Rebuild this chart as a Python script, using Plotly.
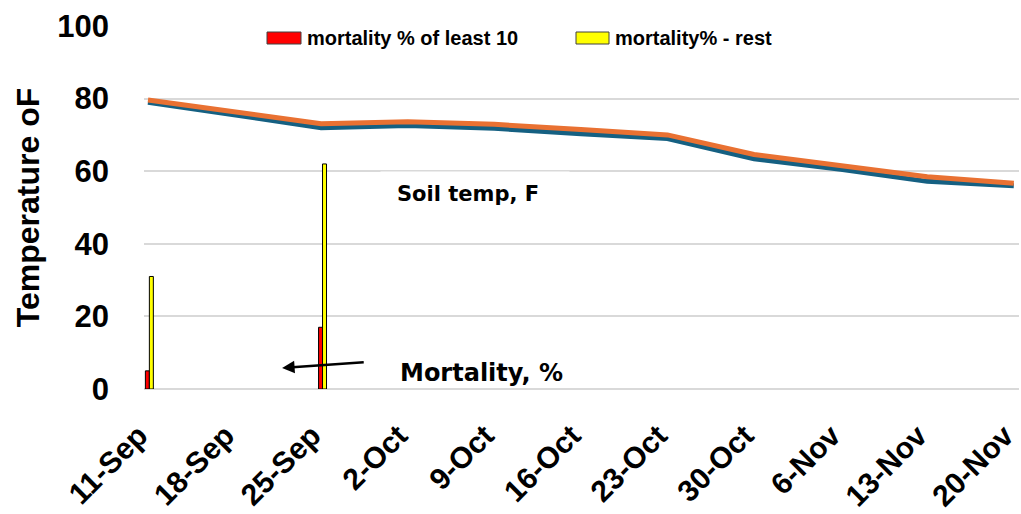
import plotly.graph_objects as go

# ---- data ----
dates = ["11-Sep", "18-Sep", "25-Sep", "2-Oct", "9-Oct", "16-Oct",
         "23-Oct", "30-Oct", "6-Nov", "13-Nov", "20-Nov"]
soil_temp_lower = [79.0, 75.5, 72.0, 72.6, 71.8, 70.3, 69.0, 63.4, 60.5, 57.2, 56.0]
soil_temp_upper = [79.6, 76.4, 73.1, 73.6, 72.9, 71.5, 70.0, 64.6, 61.7, 58.5, 56.7]

mort_dates = ["11-Sep", "25-Sep"]
mort_least10 = [5, 17]
mort_rest = [31, 62]

y_ticks = [0, 20, 40, 60, 80, 100]

legend_names = ["mortality % of least 10", "mortality% - rest"]
legend_colors = ["#FF0000", "#FFFF00"]

# ---- styling ----
W, H = 1021, 514
ML, MR, MT, MB = 144, 2, 26, 125
PW, PH = W - ML - MR, H - MT - MB
FONT = "Liberation Sans, Arial, sans-serif"
ANN_FONT = "DejaVu Sans, Verdana, sans-serif"


def px(x):
    return (x - ML) / PW


def py(y):
    return (MT + PH - y) / PH


fig = go.Figure()

fig.add_trace(go.Bar(
    x=mort_dates, y=mort_least10, name=legend_names[0],
    marker=dict(color=legend_colors[0], line=dict(color="#000000", width=1)),
    width=0.046, offset=-0.03, showlegend=False))
fig.add_trace(go.Bar(
    x=mort_dates, y=mort_rest, name=legend_names[1],
    marker=dict(color=legend_colors[1], line=dict(color="#000000", width=1)),
    width=0.046, offset=0.016, showlegend=False))

fig.add_trace(go.Scatter(
    x=dates, y=soil_temp_lower, mode="lines", name="Soil temp (1)",
    line=dict(color="#156082", width=5), showlegend=False))
fig.add_trace(go.Scatter(
    x=dates, y=soil_temp_upper, mode="lines", name="Soil temp (2)",
    line=dict(color="#E97132", width=5), showlegend=False))

# manual legend
shapes = []
annotations = []
legend_x = [(267, 301, 305), (576, 609, 613)]
for (x0, x1, xt), name, col in zip(legend_x, legend_names, legend_colors):
    shapes.append(dict(type="rect", xref="paper", yref="paper",
                       x0=px(x0), x1=px(x1), y0=py(44), y1=py(32),
                       fillcolor=col, line=dict(color="#404040", width=1)))
    annotations.append(dict(xref="paper", yref="paper", x=px(xt), y=py(38),
                            xanchor="left", yanchor="middle", showarrow=False,
                            text=name,
                            font=dict(family=FONT, size=20, color="#000000", weight="bold")))

# white box behind the soil temp label
annotations.append(dict(xref="paper", yref="paper", x=px(475), y=py(194),
                        xanchor="center", yanchor="middle", showarrow=False,
                        text=" ", width=188, height=44,
                        bgcolor="#FFFFFF", borderpad=0,
                        font=dict(family=ANN_FONT, size=21, color="#000000")))
annotations.append(dict(xref="paper", yref="paper", x=px(468), y=py(194),
                        xanchor="center", yanchor="middle", showarrow=False,
                        text="Soil temp, F",
                        font=dict(family=ANN_FONT, size=21, color="#000000", weight="bold")))
annotations.append(dict(xref="paper", yref="paper", x=px(481), y=py(373),
                        xanchor="center", yanchor="middle", showarrow=False,
                        text="Mortality, %",
                        font=dict(family=ANN_FONT, size=24, color="#000000", weight="bold")))
annotations.append(dict(xref="x", yref="y", x=1.549, y=5.8,
                        axref="x", ayref="y", ax=2.509, ay=7.4,
                        text="", showarrow=True, arrowhead=2, arrowsize=1,
                        arrowwidth=2.5, arrowcolor="#000000", standoff=0))

fig.update_layout(
    width=W, height=H,
    margin=dict(l=ML, r=MR, t=MT, b=MB, autoexpand=False),
    plot_bgcolor="#FFFFFF", paper_bgcolor="#FFFFFF",
    barmode="overlay",
    shapes=shapes, annotations=annotations,
    showlegend=False,
    font=dict(family=FONT, color="#000000"),
)

fig.update_xaxes(
    type="category", categoryorder="array", categoryarray=dates,
    range=[-0.046, 10.06], showgrid=False, zeroline=False,
    showline=False, tickangle=-45, ticks="",
    tickfont=dict(family=FONT, size=30, color="#000000", weight="bold"),
    ticklabelstandoff=22, ticklabelshift=-9, automargin=False)

fig.update_yaxes(
    range=[0, 100], tickvals=y_ticks, showgrid=True,
    gridcolor="#D9D9D9", gridwidth=1.5, zeroline=True,
    zerolinecolor="#D9D9D9", zerolinewidth=1.5, showline=False, ticks="",
    tickfont=dict(family=FONT, size=31, color="#000000", weight="bold"),
    ticklabelstandoff=34, automargin=False,
    title=dict(text="Temperature oF", standoff=8,
               font=dict(family=FONT, size=32, color="#000000", weight="bold")))

fig.write_html("out.html", config={"displayModeBar": False},
               post_script="document.body.style.margin='0px';document.body.style.overflow='hidden';")
